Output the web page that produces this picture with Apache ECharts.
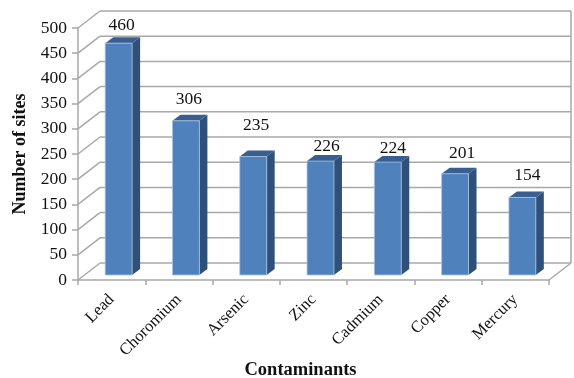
<!DOCTYPE html>
<html>
<head>
<meta charset="utf-8">
<style>
  html, body { margin: 0; padding: 0; background: #fff; }
  #chart { width: 574px; height: 378px; }
</style>
<script src="https://cdn.jsdelivr.net/npm/echarts@6/dist/echarts.min.js"></script>
</head>
<body>
<div id="chart"></div>
<script>
var categories = ["Lead", "Choromium", "Arsenic", "Zinc", "Cadmium", "Copper", "Mercury"];
var sites = [460, 306, 235, 226, 224, 201, 154];
var yTicks = [0, 50, 100, 150, 200, 250, 300, 350, 400, 450, 500];

// labels sit at uneven heights in the picture: [dx, dy] from the bar top
var labelShift = [[3, -18], [3, -21], [3, -31], [6, -15], [5, -14], [7, -20], [5, -22]];

// pseudo 3d, pixels
var wallDx = 22, wallDy = -17;
var barDx = 7, barDy = -5;
var sideDx = 8, sideDy = -6;
var gridColor = "#a8a8a8";
var serif = '"Liberation Serif", "Times New Roman", serif';

var chart = echarts.init(document.getElementById("chart"));

function line(x1, y1, x2, y2) {
  return {
    type: "line",
    shape: { x1: x1, y1: y1, x2: x2, y2: y2 },
    style: { stroke: gridColor, lineWidth: 1.5 }
  };
}

function renderWall(params, api) {
  var rect = params.coordSys;
  var y = api.coord([0, api.value(0)])[1];
  var left = rect.x, right = rect.x + rect.width;
  var kids = [
    line(left, y, left + wallDx, y + wallDy),
    line(left + wallDx, y + wallDy, right + wallDx, y + wallDy)
  ];
  if (api.value(0) === 0) {
    kids.push(line(right, y, right + wallDx, y + wallDy));
    kids.push(line(right + wallDx, y + wallDy, right + wallDx, rect.y + wallDy));
  }
  return { type: "group", children: kids };
}

function renderBar(params, api) {
  var i = api.value(0);
  var top = api.coord([i, api.value(1)]);
  var base = api.coord([i, 0]);
  var w = api.size([1, 0])[0] * 0.4;
  var x0 = top[0] - w / 2 + barDx, x1 = x0 + w;
  var yt = top[1] + barDy, yb = base[1] + barDy;
  var s = labelShift[i];
  return {
    type: "group",
    children: [
      { type: "polygon", shape: { points: [[x1, yt], [x1 + sideDx, yt + sideDy], [x1 + sideDx, yb + sideDy], [x1, yb]] },
        style: { fill: "#2f5078" } },
      { type: "polygon", shape: { points: [[x0, yt], [x0 + sideDx, yt + sideDy], [x1 + sideDx, yt + sideDy], [x1, yt]] },
        style: { fill: "#385f8f" } },
      { type: "rect", shape: { x: x0, y: yt, width: w, height: yb - yt },
        style: { fill: "#4f81bd", stroke: "#a9c4e4", lineWidth: 0.8 } },
      { type: "text", x: (x0 + x1) / 2 + s[0], y: yt + s[1],
        style: { text: String(api.value(1)), fill: "#111", font: "17.5px " + serif, align: "center", verticalAlign: "middle" } }
    ]
  };
}

chart.setOption({
  animation: false,
  backgroundColor: "#fff",
  grid: { left: 78, right: 25, top: 28, bottom: 98, outerBoundsMode: "none" },
  xAxis: {
    type: "category",
    data: categories,
    name: "Contaminants",
    nameLocation: "middle",
    nameMoveOverlap: false,
    nameGap: 81,
    nameTextStyle: { fontFamily: serif, fontWeight: "bold", fontSize: 18.5, color: "#111", padding: [0, 26, 0, 0] },
    axisLine: { lineStyle: { color: gridColor, width: 1.5 } },
    axisTick: { show: true, length: 5, alignWithLabel: false, lineStyle: { color: gridColor, width: 1.5 } },
    axisLabel: { rotate: 45, interval: 0, margin: 17, fontFamily: serif, fontSize: 16.5, color: "#111" }
  },
  yAxis: {
    type: "value",
    min: 0,
    max: 500,
    interval: 50,
    name: "Number of sites",
    nameLocation: "middle",
    nameMoveOverlap: false,
    nameGap: 49,
    nameTextStyle: { fontFamily: serif, fontWeight: "bold", fontSize: 18, color: "#111" },
    axisLine: { show: true, lineStyle: { color: gridColor, width: 1.5 } },
    axisTick: { show: true, length: 6, lineStyle: { color: gridColor, width: 1.5 } },
    axisLabel: { margin: 11, fontFamily: serif, fontSize: 17.5, color: "#111" },
    splitLine: { show: false }
  },
  series: [
    {
      type: "custom",
      name: "wall",
      data: yTicks.map(function (t) { return [t]; }),
      encode: { y: 0 },
      renderItem: renderWall,
      silent: true,
      z: 1
    },
    {
      type: "custom",
      name: "Number of sites",
      data: sites.map(function (v, i) { return [i, v]; }),
      encode: { x: 0, y: 1 },
      renderItem: renderBar,
      z: 2
    }
  ]
});
</script>
</body>
</html>
